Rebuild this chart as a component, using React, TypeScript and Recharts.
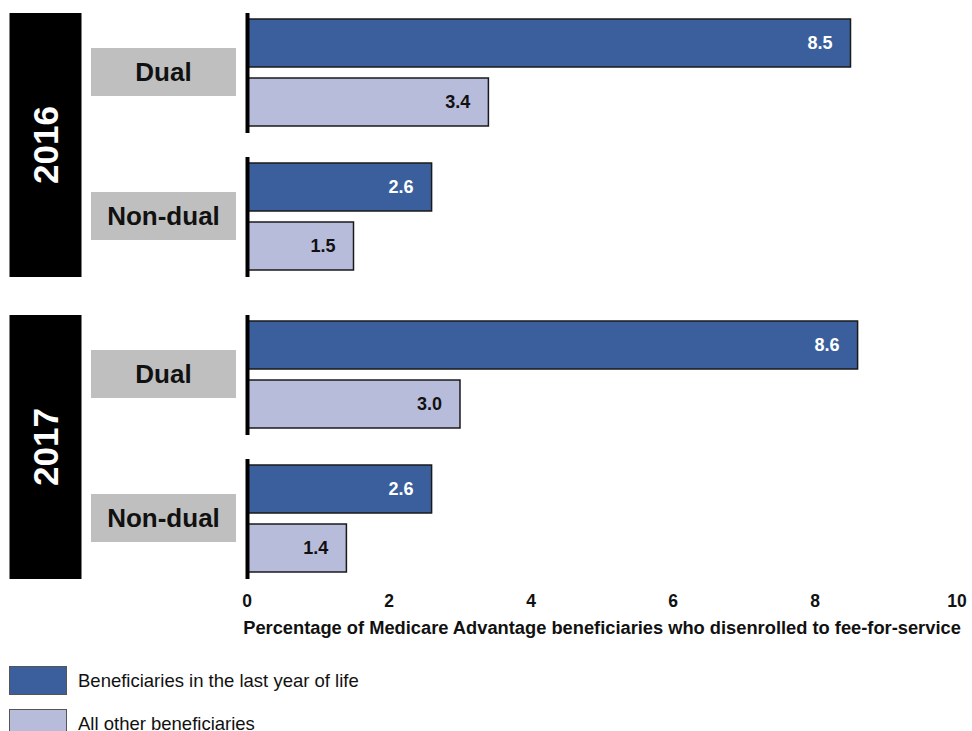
import React from "react";
import { BarChart, Bar, XAxis, YAxis, LabelList, Legend } from "recharts";

const groups = ["Dual", "Non-dual"];
const years = ["2016", "2017"];
const lastYear2016 = [8.5, 2.6];
const others2016 = [3.4, 1.5];
const lastYear2017 = [8.6, 2.6];
const others2017 = [3.0, 1.4];
const xTicks = [0, 2, 4, 6, 8, 10];
const seriesNames = ["Beneficiaries in the last year of life", "All other beneficiaries"];

const DARK = "#3A5F9C";
const LIGHT = "#B8BCDB";
const FONT = "'Liberation Sans', Arial, Helvetica, sans-serif";

const W = 972;
const PLOT_H = 288;
const BAND = PLOT_H / groups.length;
const AXIS_X = 247;
const RIGHT = 15;

const makeRows = (last: number[], other: number[]) =>
  groups.map((g, i) => ({ group: g, last: last[i], other: other[i] }));

const rows2016 = makeRows(lastYear2016, others2016);
const rows2017 = makeRows(lastYear2017, others2017);

const GroupTick = (props: any) => {
  const { y, payload, index, year } = props;
  const isLast = index === groups.length - 1;
  const boxTop = y - BAND * (groups.length - 1) - 59;
  const boxBottom = y + 61;
  const cy = (boxTop + boxBottom) / 2;
  return (
    <g>
      <rect x={91} y={y - 24} width={145} height={48} fill="#BFBFBF" />
      <text
        x={163.5}
        y={y}
        dy="0.36em"
        textAnchor="middle"
        fontSize={26}
        fontWeight="bold"
        fontFamily={FONT}
        fill="#111"
      >
        {payload.value}
      </text>
      <line x1={AXIS_X + 0.5} x2={AXIS_X + 0.5} y1={y - 59} y2={y + 61} stroke="#000" strokeWidth={4} />
      {isLast && (
        <g>
          <rect x={9.5} y={boxTop} width={72} height={boxBottom - boxTop} fill="#000" />
          <text
            x={45.5}
            y={cy}
            dy="0.36em"
            textAnchor="middle"
            fontSize={35}
            fontWeight="bold"
            fontFamily={FONT}
            fill="#fff"
            transform={`rotate(-90 45.5 ${cy})`}
          >
            {year}
          </text>
        </g>
      )}
    </g>
  );
};

const fmt = (v: any) => Number(v).toFixed(1);

const renderLegend = (props: any) => {
  const payload = [...(props.payload || [])].sort(
    (a: any, b: any) => seriesNames.indexOf(a.value) - seriesNames.indexOf(b.value)
  );
  return (
    <div style={{ fontFamily: FONT }}>
      {payload.map((p: any, i: number) => (
        <div key={i} style={{ display: "flex", alignItems: "center", height: 29, marginBottom: 14 }}>
          <div
            style={{
              width: 56,
              height: 27,
              background: p.color,
              border: "1px solid #555",
              marginLeft: 9,
              marginRight: 11,
              flexShrink: 0,
            }}
          />
          <span style={{ fontSize: 18.5, color: "#111", whiteSpace: "nowrap" }}>{p.value}</span>
        </div>
      ))}
    </div>
  );
};

const YearChart = ({ rows, year, showAxis }: { rows: any[]; year: string; showAxis: boolean }) => (
  <BarChart
    layout="vertical"
    width={W}
    height={PLOT_H + (showAxis ? 50 : 0)}
    data={rows}
    margin={{ top: 0, right: RIGHT, bottom: 0, left: 0 }}
    barSize={48}
    barGap={11}
  >
    <XAxis
      type="number"
      domain={[0, 10]}
      ticks={xTicks}
      hide={!showAxis}
      axisLine={false}
      tickLine={false}
      tickSize={3}
      tickMargin={2}
      height={50}
      interval={0}
      tick={{ fill: "#111", fontSize: 17.5, fontWeight: "bold", fontFamily: FONT }}
      label={{
        value: "Percentage of Medicare Advantage beneficiaries who disenrolled to fee-for-service",
        position: "insideBottom",
        offset: 6,
        fill: "#111",
        fontSize: 18.3,
        fontWeight: "bold",
        fontFamily: FONT,
      }}
    />
    <YAxis
      type="category"
      dataKey="group"
      width={AXIS_X}
      axisLine={false}
      tickLine={false}
      interval={0}
      tick={(p: any) => <GroupTick {...p} year={year} />}
    />
    <Bar dataKey="last" name={seriesNames[0]} fill={DARK} stroke="#1a1a1a" strokeWidth={1.5} isAnimationActive={false}>
      <LabelList
        dataKey="last"
        position="insideRight"
        offset={18}
        formatter={fmt}
        fill="#fff"
        fontSize={18}
        fontWeight="bold"
        fontFamily={FONT}
      />
    </Bar>
    <Bar dataKey="other" name={seriesNames[1]} fill={LIGHT} stroke="#1a1a1a" strokeWidth={1.5} isAnimationActive={false}>
      <LabelList
        dataKey="other"
        position="insideRight"
        offset={18}
        formatter={fmt}
        fill="#111"
        fontSize={18}
        fontWeight="bold"
        fontFamily={FONT}
      />
    </Bar>
    {showAxis && (
      <Legend
        layout="vertical"
        align="center"
        verticalAlign="middle"
        content={renderLegend}
        wrapperStyle={{ position: "absolute", left: 0, top: 364, width: 420, height: 80 }}
      />
    )}
  </BarChart>
);

export default function App() {
  return (
    <div style={{ position: "absolute", left: 0, top: 0, width: W, height: 731, background: "#fff", overflow: "hidden" }}>
      <div style={{ position: "absolute", left: 0, top: 0 }}>
        <YearChart rows={rows2016} year={years[0]} showAxis={false} />
      </div>
      <div style={{ position: "absolute", left: 0, top: 302 }}>
        <YearChart rows={rows2017} year={years[1]} showAxis={true} />
      </div>
    </div>
  );
}
